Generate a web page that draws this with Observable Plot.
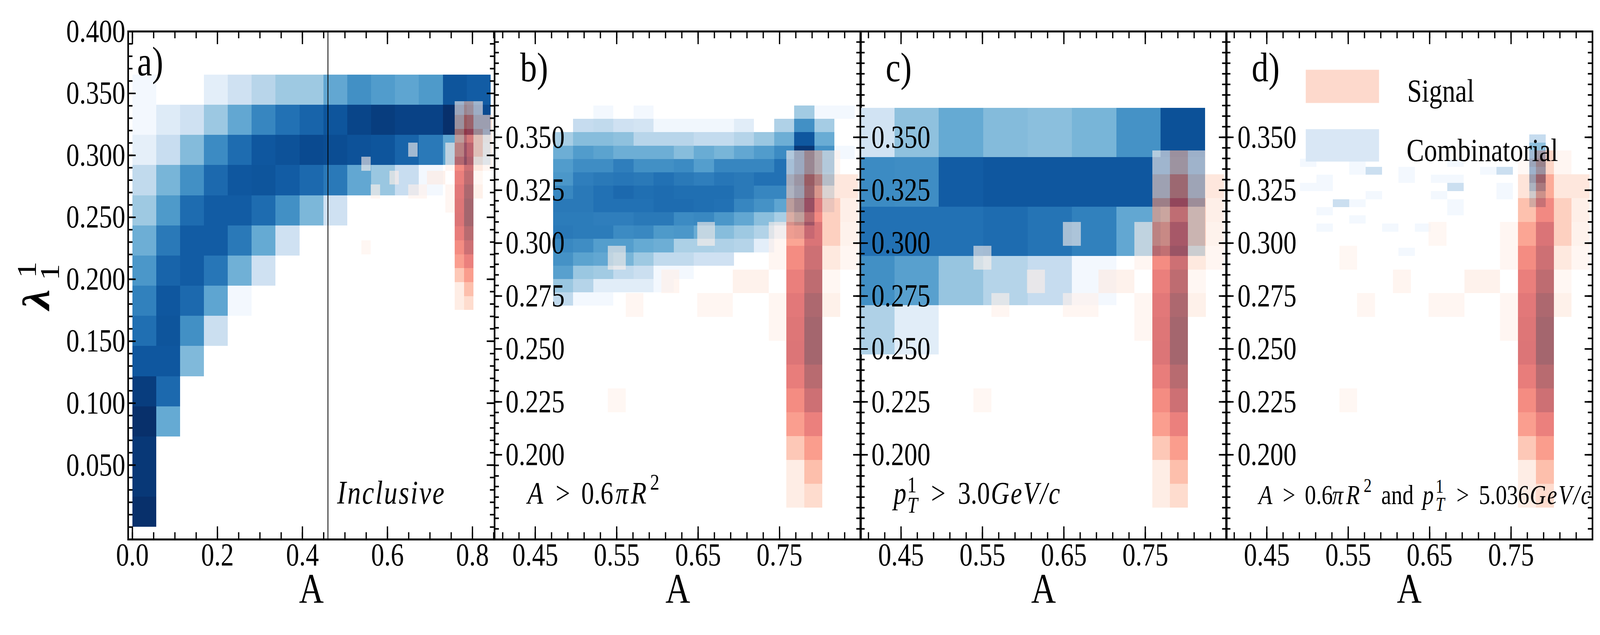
<!DOCTYPE html>
<html>
<head>
<meta charset="utf-8">
<script src="https://cdn.jsdelivr.net/npm/d3@7"></script>
<script src="https://cdn.jsdelivr.net/npm/@observablehq/plot@0.6"></script>
<style>
  html, body { margin: 0; background: white; overflow: hidden; }
  #chart { position: relative; width: 5000px; height: 1625px; transform-origin: 0 0; }
  #chart svg { position: absolute; top: 0; }
  [font-style="italic"] { letter-spacing: 4px; }
</style>
</head>
<body>
<div id="chart"></div>
<script>
// signal histogram, same in all panels (rows top to bottom, 15 x 15)
const signal = [
  [0,0,0,0,0,0,0,0,0,0,0,.01,.25,.03,0],
  [0,0,0,0,0,0,0,0,0,0,0,.17,.47,.15,.15],
  [0,0,0,0,0,0,0,0,0,0,0,.36,.63,.28,.09],
  [0,0,0,0,0,0,.02,0,0,0,.03,.5,.78,.28,.07],
  [0,.02,0,0,0,0,0,0,0,0,.03,.62,.85,.14,.03],
  [0,0,0,0,.04,0,0,0,.07,.07,0,.69,.91,.02,0],
  [0,0,.03,0,0,0,.03,.03,0,0,.03,.74,.97,.08,0],
  [0,0,0,0,0,0,0,0,0,0,.03,.76,1,0,0],
  [0,0,0,0,0,0,0,0,0,0,0,.77,1,0,0],
  [0,0,0,0,0,0,0,0,0,0,0,.7,.93,0,0],
  [0,.02,0,0,0,0,0,0,0,0,0,.62,.85,0,0],
  [0,0,0,0,0,0,0,0,0,0,0,.53,.68,0,0],
  [0,0,0,0,0,0,0,0,0,0,0,.32,.54,0,0],
  [0,0,0,0,0,0,0,0,0,0,0,.11,.37,0,0],
  [0,0,0,0,0,0,0,0,0,0,0,.11,.22,0,0]
]
const signalX = [0.5173, 0.8465]
const signalY = [0.175, 0.3437]

// combinatorial histograms
const blueA = [
  [.02,0,0,.1,.2,.29,.37,.37,.53,.63,.58,.54,.59,.86,.83],
  [.02,.125,.2,.375,.53,.67,.75,.8,.86,.92,.95,.93,.93,1,.9],
  [.09,.23,.44,.65,.77,.85,.87,.9,.89,.87,.86,.8,.72,.54,.3],
  [.26,.47,.63,.78,.85,.86,.83,.78,.72,.53,.38,.23,.02,0,0],
  [.37,.59,.77,.83,.83,.77,.63,.46,.2,0,0,0,0,0,0],
  [.5,.72,.83,.83,.72,.52,.2,0,0,0,0,0,0,0,0],
  [.6,.8,.83,.73,.49,.2,0,0,0,0,0,0,0,0,0],
  [.69,.85,.78,.54,.02,0,0,0,0,0,0,0,0,0,0],
  [.76,.86,.63,.22,0,0,0,0,0,0,0,0,0,0,0],
  [.85,.85,.45,0,0,0,0,0,0,0,0,0,0,0,0],
  [.95,.78,0,0,0,0,0,0,0,0,0,0,0,0,0],
  [1,.52,0,0,0,0,0,0,0,0,0,0,0,0,0],
  [.97,0,0,0,0,0,0,0,0,0,0,0,0,0,0],
  [.97,0,0,0,0,0,0,0,0,0,0,0,0,0,0],
  [1,0,0,0,0,0,0,0,0,0,0,0,0,0,0]
]
const blueAX = [0, 0.843]
const blueAY = [0, 0.365]

const blueB = [
  [0,0,.02,0,.02,0,0,0,0,0,0,0,.36,.02,.02],
  [0,.24,.26,.2,.18,.03,.03,.03,.03,.11,0,.32,.63,.35,0],
  [.34,.43,.43,.41,.29,.29,.29,.25,.25,.3,.38,.5,.85,.51,0],
  [.5,.58,.55,.5,.5,.5,.43,.51,.47,.53,.58,.65,.97,.62,.02],
  [.58,.64,.64,.7,.63,.63,.65,.57,.67,.67,.67,.75,.96,.63,0],
  [.6,.7,.72,.73,.72,.75,.72,.7,.73,.72,.75,.75,.96,.6,0],
  [.66,.72,.75,.78,.76,.77,.76,.76,.76,.72,.67,.67,.88,.35,0],
  [.72,.72,.75,.75,.75,.77,.77,.76,.75,.67,.62,.54,.76,.2,0],
  [.71,.71,.7,.7,.72,.72,.65,.66,.6,.53,.42,.34,.5,0,0],
  [.72,.71,.71,.65,.66,.59,.6,.51,.43,.37,.31,.12,.2,0,0],
  [.66,.64,.57,.57,.52,.5,.33,.33,.32,.3,.1,0,0,0,0],
  [.62,.55,.53,.47,.37,.26,.26,.2,.2,0,0,0,0,0,0],
  [.56,.38,.36,.26,.22,.02,.02,0,0,0,0,0,0,0,0],
  [.38,.3,.11,.11,.11,.02,0,0,0,0,0,0,0,0,0],
  [.26,.02,.02,0,0,0,0,0,0,0,0,0,0,0,0]
]
const blueBX = [0.472, 0.8424]
const blueBY = [0.2704, 0.3649]

const blueC = [
  [.19,.41,.52,.44,.42,.47,.62,.875],
  [.65,.64,.83,.85,.85,.85,.85,.85],
  [.75,.75,.75,.77,.74,.69,.53,.45],
  [.63,.56,.39,.3,.24,.02,0,0],
  [.32,.11,0,0,0,0,0,0]
]
const blueCX = [0.3876, 0.8236]
const blueCY = [0.2473, 0.3638]

const blueD = [
  [0,0,0,0,0,0,0,0,0,0,0,0,0,0,.24],
  [0,0,0,0,0,0,0,0,0,0,0,0,0,0,.41],
  [0,0,0,0,0,0,0,0,0,0,0,0,0,0,.8],
  [.02,0,0,.02,0,0,0,0,0,.02,0,0,0,0,1],
  [0,0,0,.02,.22,0,.02,0,0,0,0,.02,.22,0,.87],
  [0,.02,0,0,0,0,.02,0,.02,.02,0,0,0,0,.9],
  [.02,.02,0,0,0,0,0,0,0,.22,0,0,.02,0,.68],
  [0,0,0,0,.02,0,0,0,.02,0,0,0,.02,0,.42],
  [0,0,.22,.02,0,0,0,0,0,.02,0,0,0,0,.4],
  [0,.02,0,0,0,0,0,0,0,.02,0,0,0,0,0],
  [0,0,0,.02,0,0,0,0,0,0,0,0,0,0,0],
  [0,.02,0,0,0,.02,0,.02,0,0,0,0,0,0,0],
  [0,0,0,0,0,0,0,0,0,0,0,0,0,0,0],
  [0,0,0,0,0,0,0,0,0,0,0,0,0,0,0],
  [0,0,0,0,0,0,.02,0,0,0,0,0,0,0,0]
]
const blueDX = [0.4911, 0.7926]
const blueDY = [0.2939, 0.3513]

// ticks
const xMajorA = [0, 0.2, 0.4, 0.6, 0.8]
const xMinorA = d3.range(0, 0.851, 0.05)
const yMajorA = [0.05, 0.1, 0.15, 0.2, 0.25, 0.3, 0.35, 0.4]
const yMinorA = d3.range(0, 0.4001, 0.01)
const xMajor = [0.45, 0.55, 0.65, 0.75]
const xMinor = d3.range(0.41, 0.85, 0.02)
const yMajor = [0.2, 0.225, 0.25, 0.275, 0.3, 0.325, 0.35]
const yMinor = d3.range(0.165, 0.4001, 0.005)

const serif = 'Liberation Serif'
const panelW = 1145, panelH = 1300
const signalOpacity = 0.6

const cells = (rows, xr, yr, sign) => {
  let out = []
  let dx = (xr[1] - xr[0]) / rows[0].length
  let dy = (yr[1] - yr[0]) / rows.length
  rows.forEach((row, j) => row.forEach((v, i) => {
    if (v > 0) out.push({
      x1: xr[0] + i * dx, x2: xr[0] + (i + 1) * dx,
      y1: yr[1] - (j + 1) * dy, y2: yr[1] - j * dy,
      v: sign * v
    })
  }))
  return out
}

// text placed in pixels from the panel's top left corner, dy is the baseline
const note = (str, dx, dy, opts = {}) => Plot.text([str], {
  text: d => d,
  frameAnchor: 'top-left',
  textAnchor: 'start',
  lineAnchor: 'bottom',
  fontFamily: serif,
  fontSize: 80,
  fill: 'black',
  dx, dy,
  ...opts
})
const it = {fontStyle: 'italic'}

const panel = (opts) => {
  let {left, ml, mr, xDomain, yDomain, blue, bx, by, xMaj, xMin, yMaj, yMin, xFmt, labelPad, extra = [], top = []} = opts
  let chart = Plot.plot({
    width: ml + panelW + mr,
    height: 1625,
    marginLeft: ml,
    marginRight: mr,
    marginTop: 80,
    marginBottom: 245,
    style: {background: 'transparent', overflow: 'visible', maxWidth: 'none', fontFamily: serif},
    x: {domain: xDomain, axis: null},
    y: {domain: yDomain, axis: null},
    color: {
      type: 'linear',
      domain: [-1, 1],
      interpolate: t => t < 0.5 ? d3.interpolateBlues(1 - 2 * t) : d3.interpolateReds(2 * t - 1)
    },
    marks: [
      Plot.rect(cells(blue, bx, by, -1), {x1: 'x1', x2: 'x2', y1: 'y1', y2: 'y2', fill: 'v', clip: true, shapeRendering: 'crispEdges'}),
      Plot.rect(cells(signal, signalX, signalY, 1), {x1: 'x1', x2: 'x2', y1: 'y1', y2: 'y2', fill: 'v', fillOpacity: signalOpacity, clip: true, shapeRendering: 'crispEdges'}),
      ...extra,
      Plot.tickX(xMin, {x: d => d, insetTop: panelH - 18, stroke: 'black', strokeWidth: 4}),
      Plot.tickX(xMin, {x: d => d, insetBottom: panelH - 18, stroke: 'black', strokeWidth: 4}),
      Plot.tickX(xMaj, {x: d => d, insetTop: panelH - 33, stroke: 'black', strokeWidth: 4}),
      Plot.tickX(xMaj, {x: d => d, insetBottom: panelH - 33, stroke: 'black', strokeWidth: 4}),
      Plot.tickY(yMin, {y: d => d, insetRight: panelW - 14, stroke: 'black', strokeWidth: 4}),
      Plot.tickY(yMin, {y: d => d, insetLeft: panelW - 14, stroke: 'black', strokeWidth: 4}),
      Plot.tickY(yMaj, {y: d => d, insetRight: panelW - 24, stroke: 'black', strokeWidth: 4}),
      Plot.tickY(yMaj, {y: d => d, insetLeft: panelW - 24, stroke: 'black', strokeWidth: 4}),
      Plot.frame({stroke: 'black', strokeWidth: 5}),
      Plot.axisX(xMaj, {anchor: 'bottom', tickSize: 0, tickPadding: 8, fontSize: 82, fontFamily: serif, fill: 'black', tickFormat: xFmt}),
      Plot.axisY(yMaj, {anchor: 'left', tickSize: 0, tickPadding: labelPad, fontSize: 82, fontFamily: serif, fill: 'black', tickFormat: d3.format('.3f')}),
      Plot.text(['A'], {text: d => d, frameAnchor: 'bottom', lineAnchor: 'bottom', dy: 162, fontFamily: serif, fontSize: 107, fill: 'black'}),
      ...top
    ]
  })
  chart.style.left = left + 'px'
  document.querySelector('#chart').append(chart)
}

panel({
  left: 0, ml: 400, mr: 10,
  xDomain: [-0.01, 0.852], yDomain: [-0.01, 0.4],
  blue: blueA, bx: blueAX, by: blueAY,
  xMaj: xMajorA, xMin: xMinorA, yMaj: yMajorA, yMin: yMinorA,
  xFmt: d3.format('.1f'), labelPad: 9,
  extra: [Plot.ruleX([0.46], {stroke: 'black', strokeWidth: 2.5})],
  top: [
    note('a)', 28, 112, {fontSize: 105}),
    note('Inclusive', 653, 1208, {fontSize: 84, ...it}),
    note('λ', -286, 684, {fontSize: 118, rotate: -90, textAnchor: 'middle', lineAnchor: 'middle', fontWeight: 'bold', ...it}),
    note('1', -316, 610, {fontSize: 85, rotate: -90, textAnchor: 'middle', lineAnchor: 'middle'}),
    note('1', -243, 616, {fontSize: 85, rotate: -90, textAnchor: 'middle', lineAnchor: 'middle'})
  ]
})

panel({
  left: 1535, ml: 10, mr: 10,
  xDomain: [0.4, 0.85], yDomain: [0.16, 0.4],
  blue: blueB, bx: blueBX, by: blueBY,
  xMaj: xMajor, xMin: xMinor, yMaj: yMajor, yMin: yMinor,
  xFmt: d3.format('.2f'), labelPad: -219,
  top: [
    note('b)', 80, 127, {fontSize: 105}),
    note('A', 103, 1208, it),
    note('>', 191, 1208),
    note('0.6', 271, 1208),
    note('π', 378, 1208, it),
    note('R', 426, 1208, it),
    note('2', 486, 1172, {fontSize: 58})
  ]
})

panel({
  left: 2678, ml: 10, mr: 10,
  xDomain: [0.4, 0.85], yDomain: [0.16, 0.4],
  blue: blueC, bx: blueCX, by: blueCY,
  xMaj: xMajor, xMin: xMinor, yMaj: yMajor, yMin: yMinor,
  xFmt: d3.format('.2f'), labelPad: -219,
  top: [
    note('c)', 79, 127, {fontSize: 105}),
    note('p', 104, 1208, it),
    note('1', 147, 1179, {fontSize: 58}),
    note('T', 147, 1231, {fontSize: 58, ...it}),
    note('>', 221, 1208),
    note('3.0', 305, 1208),
    note('GeV/c', 408, 1208, it)
  ]
})

panel({
  left: 3821, ml: 10, mr: 24,
  xDomain: [0.4, 0.85], yDomain: [0.16, 0.4],
  blue: blueD, bx: blueDX, by: blueDY,
  xMaj: xMajor, xMin: xMinor, yMaj: yMajor, yMin: yMinor,
  xFmt: d3.format('.2f'), labelPad: -220,
  top: [
    note('d)', 80, 127, {fontSize: 105}),
    Plot.frame({fill: '#fdd9cc', stroke: 'none', insetLeft: 249, insetRight: panelW - 478, insetTop: 98, insetBottom: panelH - 183}),
    Plot.frame({fill: '#d9e7f5', stroke: 'none', insetLeft: 249, insetRight: panelW - 478, insetTop: 250, insetBottom: panelH - 333}),
    note('Signal', 566, 179, {fontSize: 82}),
    note('Combinatorial', 564, 331, {fontSize: 82}),
    note('A', 102, 1209, {fontSize: 70, ...it}),
    note('>', 177, 1209, {fontSize: 70}),
    note('0.6', 246, 1209, {fontSize: 70}),
    note('π', 331, 1209, {fontSize: 70, ...it}),
    note('R', 375, 1209, {fontSize: 70, ...it}),
    note('2', 430, 1178, {fontSize: 50}),
    note('and', 485, 1209, {fontSize: 70}),
    note('p', 614, 1209, {fontSize: 70, ...it}),
    note('1', 655, 1180, {fontSize: 50}),
    note('T', 655, 1226, {fontSize: 50, ...it}),
    note('>', 720, 1209, {fontSize: 70}),
    note('5.036', 790, 1209, {fontSize: 70}),
    note('GeV/c', 949, 1209, {fontSize: 70, clip: 'frame', ...it})
  ]
})

// the browser window can be narrower than the 5000px page, squeeze to fit it
document.querySelector('#chart').style.transform = 'scaleX(' + Math.min(1, innerWidth / 5000) + ')'
</script>
</body>
</html>
